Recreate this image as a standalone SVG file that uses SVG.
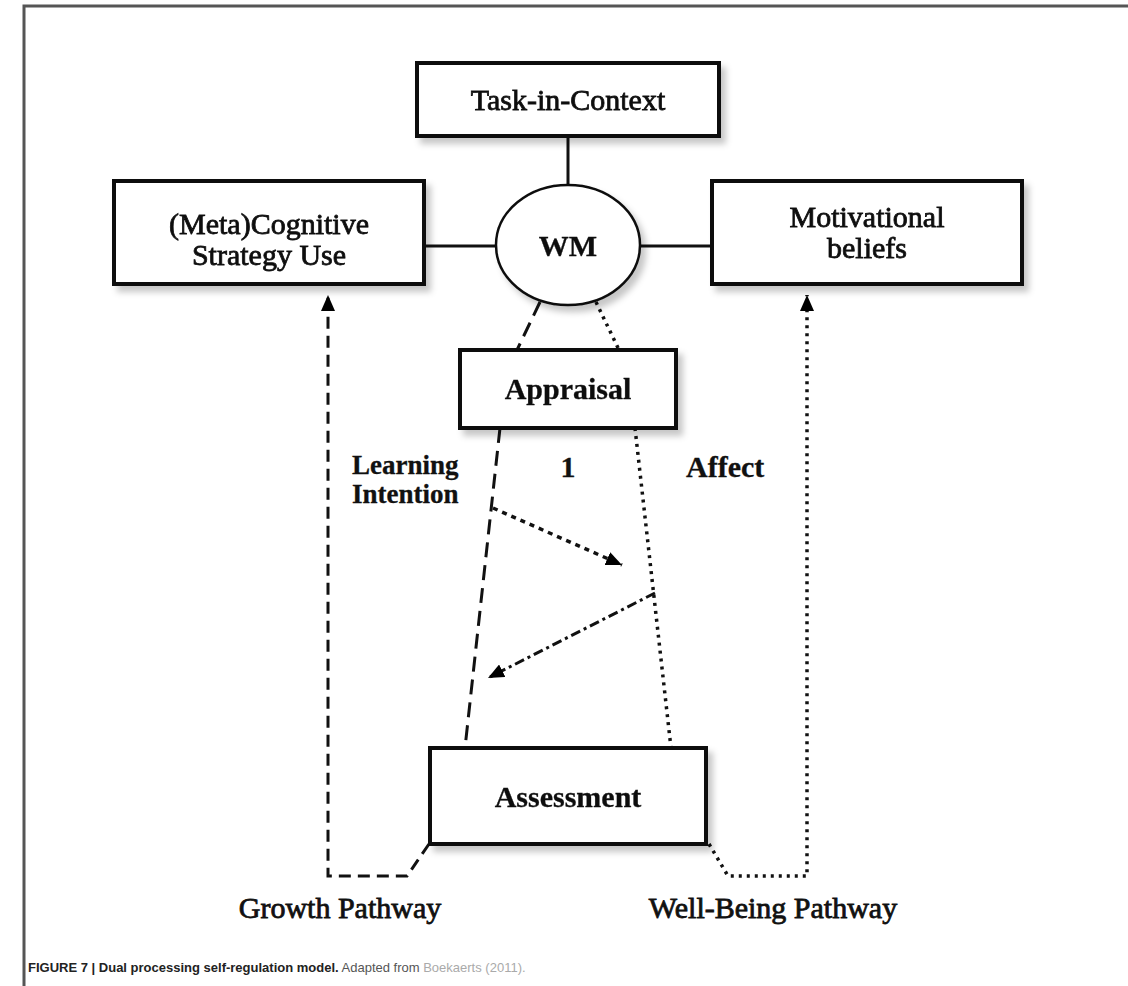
<svg xmlns="http://www.w3.org/2000/svg" width="1128" height="986" viewBox="0 0 1128 986">
  <defs>
    <filter id="shadow" x="-10%" y="-10%" width="130%" height="140%">
      <feDropShadow dx="5" dy="6" stdDeviation="3" flood-color="#000" flood-opacity="0.22"/>
    </filter>
    <marker id="tri" viewBox="0 0 16 14" refX="16" refY="7" markerWidth="16" markerHeight="14" orient="auto" markerUnits="userSpaceOnUse">
      <path d="M0,0 L16,7 L0,14 z" fill="#000" stroke="none"/>
    </marker>
    <style>
      .box { fill: #fff; stroke: #111; stroke-width: 4; }
      .oval { fill: #fff; stroke: #111; stroke-width: 2.5; }
      .lbl { font-family: "Liberation Serif", "Times New Roman", serif; font-size: 30px; fill: #111; stroke: #111; stroke-width: 0.8; text-anchor: middle; }
      .b { font-weight: bold; stroke-width: 0.3; }
      .sm { font-size: 27px; }
      .solid { fill: none; stroke: #111; stroke-width: 3; }
      .dash { fill: none; stroke: #111; stroke-width: 3; stroke-dasharray: 12 7; }
      .longdash { fill: none; stroke: #111; stroke-width: 3; stroke-dasharray: 15 8; }
      .dot { fill: none; stroke: #111; stroke-width: 3.5; stroke-dasharray: 3 5; }
      .dotarrow { fill: none; stroke: #111; stroke-width: 3.5; stroke-dasharray: 5 5; }
      .dashdot { fill: none; stroke: #111; stroke-width: 3; stroke-dasharray: 10 4 3 4; }
      .cap { font-family: "Liberation Sans", Arial, sans-serif; font-size: 13px; }
    </style>
  </defs>

  <rect width="1128" height="986" fill="#fff"/>
  <!-- outer figure frame, open to the right and bottom -->
  <rect x="24" y="6" width="1130" height="1000" fill="none" stroke="#555" stroke-width="3"/>

  <!-- connectors -->
  <g id="connectors">
    <line class="solid" x1="568" y1="136" x2="568" y2="185"/>
    <line class="solid" x1="424" y1="246" x2="496" y2="246"/>
    <line class="solid" x1="640" y1="246" x2="712" y2="246"/>
    <line class="longdash" x1="540" y1="302" x2="517" y2="350"/>
    <line class="dot" x1="596" y1="302" x2="619" y2="350"/>
    <line class="longdash" x1="500" y1="428" x2="465" y2="748"/>
    <line class="dot" x1="635" y1="428" x2="671" y2="748"/>
    <path class="dotarrow" d="M493,508 L622,565" marker-end="url(#tri)"/>
    <path class="dashdot" d="M655,593 L488,678" marker-end="url(#tri)"/>
    <path class="dash" d="M429,844 L407,876 L328,876 L328,295" marker-end="url(#tri)"/>
    <path class="dot" d="M709,844 L728,876 L807,876 L807,295" marker-end="url(#tri)"/>
  </g>

  <g id="task-in-context" filter="url(#shadow)">
    <rect class="box" x="417" y="63" width="302" height="73"/>
    <text class="lbl" x="568" y="110">Task-in-Context</text>
  </g>

  <g id="metacognitive" filter="url(#shadow)">
    <rect class="box" x="114" y="181" width="310" height="103"/>
    <text class="lbl" x="269" y="234">(Meta)Cognitive</text>
    <text class="lbl" x="269" y="265">Strategy Use</text>
  </g>

  <g id="wm" filter="url(#shadow)">
    <ellipse class="oval" cx="568" cy="245" rx="72" ry="60"/>
    <text class="lbl b" x="568" y="256">WM</text>
  </g>

  <g id="motivational" filter="url(#shadow)">
    <rect class="box" x="712" y="181" width="310" height="103"/>
    <text class="lbl" x="867" y="227">Motivational</text>
    <text class="lbl" x="867" y="258">beliefs</text>
  </g>

  <g id="appraisal" filter="url(#shadow)">
    <rect class="box" x="460" y="350" width="216" height="78"/>
    <text class="lbl b" x="568" y="399">Appraisal</text>
  </g>

  <g id="labels">
    <text class="lbl b sm" x="352" y="474" style="text-anchor:start">Learning</text>
    <text class="lbl b sm" x="352" y="503" style="text-anchor:start">Intention</text>
    <text class="lbl b" x="568" y="477">1</text>
    <text class="lbl b" x="686" y="477" style="text-anchor:start">Affect</text>
  </g>

  <g id="assessment" filter="url(#shadow)">
    <rect class="box" x="430" y="748" width="276" height="96"/>
    <text class="lbl b" x="568" y="807">Assessment</text>
  </g>

  <g id="pathways">
    <text class="lbl" x="340" y="918">Growth Pathway</text>
    <text class="lbl" x="773" y="918">Well-Being Pathway</text>
  </g>

  <g id="caption">
    <text class="cap" x="28" y="972"><tspan font-weight="bold" fill="#222">FIGURE 7 | Dual processing self-regulation model.</tspan><tspan fill="#555"> Adapted from </tspan><tspan fill="#aaa">Boekaerts</tspan><tspan fill="#aaa"> (2011).</tspan></text>
  </g>
</svg>
